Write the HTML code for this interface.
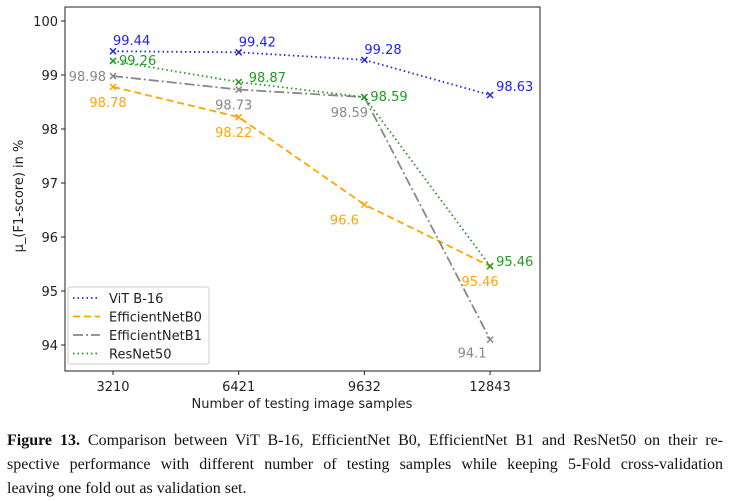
<!DOCTYPE html>
<html><head><meta charset="utf-8"><style>
body{margin:0;background:#fff;width:730px;height:501px;overflow:hidden;font-family:"DejaVu Sans","Liberation Sans",sans-serif}
.cap{position:absolute;left:7px;top:429px;width:716px;font-family:"Liberation Serif",serif;font-size:16px;line-height:24px;color:#111}
.cap div{text-align:justify;text-align-last:justify;white-space:nowrap}
.cap div.last{text-align-last:left}
</style></head><body>
<svg id="chart" width="730" height="425" style="position:absolute;left:0;top:0" font-family="DejaVu Sans, Liberation Sans, sans-serif"></svg>
<div class="cap">
<div><b>Figure 13.</b> Comparison between ViT B-16, EfficientNet B0, EfficientNet B1 and ResNet50 on their re-</div>
<div>spective performance with different number of testing samples while keeping 5-Fold cross-validation</div>
<div class="last">leaving one fold out as validation set.</div>
</div>
<script>
const categories=["3210","6421","9632","12843"];
const vit=[99.44,99.42,99.28,98.63];
const b0=[98.78,98.22,96.6,95.46];
const b1=[98.98,98.73,98.59,94.1];
const res=[99.26,98.87,98.59,95.46];
const yTicks=[94,95,96,97,98,99,100];
const NS="http://www.w3.org/2000/svg";
const svg=document.getElementById('chart');
const L=65,R=540,T=7,B=371;
const x=i=>113+i*125.7;
const y=v=>21+(100-v)*54;
function mk(t,a,p){const e=document.createElementNS(NS,t);for(const k in a)e.setAttribute(k,a[k]);(p||svg).appendChild(e);return e;}
const frame=mk('rect',{x:L,y:T,width:R-L,height:B-T,fill:'none',stroke:'#222','stroke-width':1});


yTicks.forEach(v=>{mk('line',{x1:L-4,x2:L,y1:y(v),y2:y(v),stroke:'#222'});
const t=mk('text',{x:L-7,y:y(v)+5,'text-anchor':'end','font-size':13,fill:'#222'});t.textContent=v;

});
categories.forEach((c,i)=>{mk('line',{x1:x(i),x2:x(i),y1:B,y2:B+4,stroke:'#222'});
const t=mk('text',{x:x(i),y:B+20,'text-anchor':'middle','font-size':13,fill:'#222'});t.textContent=c;

});
let t=mk('text',{x:302,y:408,'text-anchor':'middle','font-size':13,fill:'#222'});t.textContent='Number of testing image samples';


t=mk('text',{x:0,y:0,'text-anchor':'middle','font-size':13,fill:'#222',transform:'translate(23,196) rotate(-90)'});t.textContent='μ_(F1-score) in %';


const series=[
{name:'vit',vals:vit,c:'#2222ee',dash:'1.5,3',lab:[[0,-6,'start'],[0,-6,'start'],[0,-6,'start'],[6,-4,'start']]},
{name:'b0',vals:b0,c:'#ffa500',dash:'7,4',lab:[[-5,20,'middle'],[-5,20,'middle'],[-20,20,'middle'],[-10,20,'middle']]},
{name:'b1',vals:b1,c:'#888',dash:'10,3,2,3',lab:[[-7,5,'end'],[-5,20,'middle'],[-15,20,'middle'],[-18,18,'middle']]},
{name:'res',vals:res,c:'#229922',dash:'1.5,3',lab:[[6,4,'start'],[10,0,'start'],[6,4,'start'],[6,0,'start']]}];
series.forEach(s=>{
const p=mk('polyline',{points:s.vals.map((v,i)=>x(i)+','+y(v)).join(' '),fill:'none',stroke:s.c,'stroke-width':1.8,'stroke-dasharray':s.dash});


s.vals.forEach((v,i)=>{const X=x(i),Y=y(v);
const m=mk('path',{d:`M${X-3},${Y-3}L${X+3},${Y+3}M${X-3},${Y+3}L${X+3},${Y-3}`,stroke:s.c,'stroke-width':1.5});


const l=s.lab[i];const tx=mk('text',{x:X+l[0],y:Y+l[1],'text-anchor':l[2],'font-size':13,fill:s.c});tx.textContent=v;

});});
const lg=mk('g',{});


mk('rect',{x:68,y:287,width:141,height:77,fill:'#fff',stroke:'#ccc',rx:2},lg);
const names=['ViT B-16','EfficientNetB0','EfficientNetB1','ResNet50'];
series.forEach((s,i)=>{const Y=298+i*18.5;
mk('line',{x1:73,x2:100,y1:Y,y2:Y,stroke:s.c,'stroke-width':1.8,'stroke-dasharray':s.dash},lg);
const tx=mk('text',{x:109,y:Y+5,'font-size':13,fill:'#222'},lg);tx.textContent=names[i];

});
</script>
</body></html>
